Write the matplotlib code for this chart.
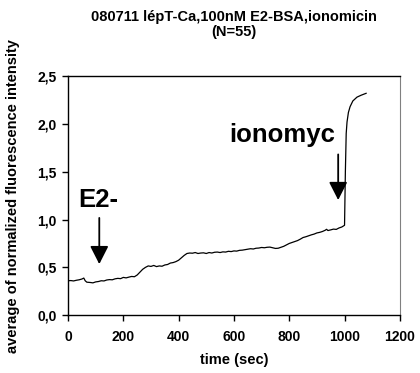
import matplotlib
matplotlib.use("Agg")
import matplotlib.pyplot as plt
from matplotlib.ticker import FuncFormatter

# averaged trace
time_sec = [0, 10, 20, 30, 40, 50, 57, 62, 68, 80, 90, 100, 110, 120, 130, 140,
            150, 160, 170, 180, 190, 200, 210, 220, 230, 240, 250, 260, 270, 280,
            290, 300, 310, 320, 330, 340, 350, 360, 370, 380, 390, 400, 410, 420,
            430, 440, 450, 460, 470, 480, 490, 500, 510, 520, 530, 540, 550, 560,
            570, 580, 590, 600, 610, 620, 630, 640, 650, 660, 670, 680, 690, 700,
            710, 720, 730, 740, 750, 760, 770, 780, 790, 800, 810, 820, 830, 840,
            850, 860, 870, 880, 890, 900, 910, 920, 930, 935, 940, 950, 960, 970,
            980, 990, 1000, 1003, 1006, 1009, 1014, 1020, 1030, 1045, 1060, 1078]
intensity = [0.360, 0.362, 0.358, 0.365, 0.370, 0.378, 0.388, 0.360, 0.345, 0.342,
             0.338, 0.348, 0.352, 0.360, 0.358, 0.368, 0.372, 0.370, 0.380, 0.385,
             0.382, 0.395, 0.390, 0.398, 0.405, 0.402, 0.420, 0.450, 0.480, 0.500,
             0.515, 0.510, 0.520, 0.508, 0.515, 0.512, 0.525, 0.530, 0.545, 0.550,
             0.560, 0.575, 0.600, 0.625, 0.645, 0.650, 0.648, 0.655, 0.645, 0.650,
             0.652, 0.645, 0.655, 0.650, 0.658, 0.660, 0.655, 0.662, 0.660, 0.668,
             0.665, 0.672, 0.670, 0.678, 0.680, 0.685, 0.690, 0.695, 0.692, 0.700,
             0.702, 0.708, 0.705, 0.710, 0.712, 0.705, 0.698, 0.700, 0.710, 0.720,
             0.735, 0.750, 0.760, 0.770, 0.780, 0.795, 0.812, 0.820, 0.830, 0.840,
             0.848, 0.860, 0.866, 0.875, 0.888, 0.898, 0.885, 0.892, 0.900, 0.897,
             0.912, 0.922, 0.940, 1.500, 1.900, 2.020, 2.120, 2.180, 2.240, 2.280,
             2.300, 2.320]

x_ticks = [0, 200, 400, 600, 800, 1000, 1200]
y_ticks = [0.0, 0.5, 1.0, 1.5, 2.0, 2.5]

# (label, x, text baseline y, arrow tail y, arrow tip y, arrow x)
annotations = [("E2-", 36, 1.13, 1.046, 0.505, 113),
               ("ionomyc", 775, 1.81, 1.71, 1.175, 977)]

plt.rcParams['font.family'] = ['Liberation Sans', 'DejaVu Sans']

fig = plt.figure(figsize=(4.2, 3.73), dpi=100)
ax = fig.add_axes([0.162, 0.155, 0.790, 0.641])

ax.plot(time_sec, intensity, color='black', lw=0.9)

for label, tx, ty, y0, y1, ax_x in annotations:
    ha = 'left' if label == "E2-" else 'center'
    ax.text(tx, ty, label, fontsize=18.5, fontweight='bold', ha=ha, va='baseline')
    ax.annotate('', xy=(ax_x, y1), xytext=(ax_x, y0),
                arrowprops=dict(arrowstyle='-|>,head_length=0.55,head_width=0.28',
                                mutation_scale=20, lw=1.3, color='black'))

ax.set_xlim(0, 1200)
ax.set_ylim(0, 2.5)
ax.set_xticks(x_ticks)
ax.set_yticks(y_ticks)
ax.yaxis.set_major_formatter(FuncFormatter(lambda v, p: f"{v:.1f}".replace('.', ',')))
ax.tick_params(direction='out', length=4, width=1, labelsize=10, pad=4)
ax.tick_params(axis='x', pad=7)
for lab in ax.get_xticklabels() + ax.get_yticklabels():
    lab.set_fontweight('bold')

ax.spines['right'].set_color('#808080')
for s in ['left', 'bottom', 'top']:
    ax.spines[s].set_color('black')
    ax.spines[s].set_linewidth(1)

ax.set_xlabel("time (sec)", fontsize=10.5, fontweight='bold', labelpad=6)
fig.text(0.03, 0.475, "average of normalized fluorescence intensity", rotation=90,
         fontsize=10.5, fontweight='bold', ha='center', va='center')
fig.text(0.556, 0.972, "080711 lépT-Ca,100nM E2-BSA,ionomicin\n(N=55)",
         fontsize=10.5, fontweight='bold', ha='center', va='top', linespacing=1.05)

fig.savefig("out.png", dpi=100)
